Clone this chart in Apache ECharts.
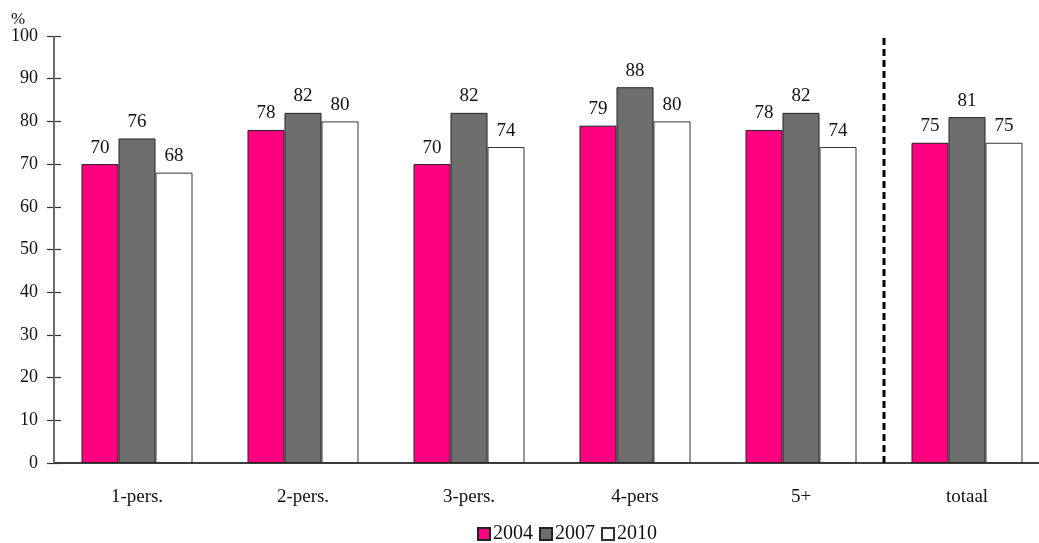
<!DOCTYPE html>
<html>
<head>
<meta charset="utf-8">
<title>Huishoudens</title>
<script src="https://cdn.jsdelivr.net/npm/echarts@6/dist/echarts.min.js"></script>
<style>
  html, body { margin: 0; padding: 0; background: #fff; }
  #chart { width: 1039px; height: 543px; }
</style>
</head>
<body>
<div id="chart"></div>
<script>
// Household size categories and shares per survey year (%)
const categories = ['1-pers.', '2-pers.', '3-pers.', '4-pers', '5+', 'totaal'];
const values2004 = [70, 78, 70, 79, 78, 75];
const values2007 = [76, 82, 82, 88, 82, 81];
const values2010 = [68, 80, 74, 80, 74, 75];
const yTicks = { min: 0, max: 100, interval: 10 };
// Separator between the household groups and the total (category boundary 5)
const separatorAt = 5;

const FONT = '"Liberation Serif", "DejaVu Serif", serif';

function barSeries(name, data, fill, border) {
  return {
    name: name,
    type: 'bar',
    data: data,
    barWidth: 37,
    barGap: '0%',
    itemStyle: { color: fill, borderColor: border, borderWidth: 1 },
    label: {
      show: true,
      position: 'top',
      distance: 7,
      color: '#111',
      fontFamily: FONT,
      fontSize: 19
    }
  };
}

// vertical rule on the helper x axis, spanning the full value range
function ruleSeries(name, at, style) {
  return {
    name: name,
    type: 'line',
    xAxisIndex: 1,
    yAxisIndex: 0,
    data: [[at, yTicks.min], [at, yTicks.max]],
    symbol: 'none',
    silent: true,
    clip: false,
    z: 5,
    lineStyle: style
  };
}

const axisGrey = '#6a6a6a';
const yTickStyle = { color: '#333', width: 1.2 };

const chart = echarts.init(document.getElementById('chart'));
chart.setOption({
  animation: false,
  backgroundColor: '#fff',
  textStyle: { fontFamily: FONT },
  graphic: [{
    type: 'text',
    left: 11,
    top: 11,
    style: { text: '%', font: '17px ' + FONT, fill: '#111' }
  }],
  grid: {
    left: 54, top: 36, width: 996, height: 427,
    containLabel: false,
    outerBoundsMode: 'none'
  },
  legend: {
    left: 472,
    top: 519,
    itemWidth: 12,
    itemHeight: 12,
    itemGap: 6,
    icon: 'rect',
    formatter: function (name) { return name === '2007' ? '{wide|' + name + '}' : name; },
    textStyle: {
      fontFamily: FONT, fontSize: 20, color: '#111', padding: [0, 0, 0, -2],
      rich: { wide: { fontFamily: FONT, fontSize: 20, color: '#111', padding: [0, 4, 0, 0] } }
    },
    data: ['2004', '2007', '2010']
  },
  xAxis: [{
    type: 'category',
    data: categories,
    axisLine: { lineStyle: { color: '#000', width: 1.5 } },
    axisTick: { show: false },
    axisLabel: { margin: 25, color: '#111', fontFamily: FONT, fontSize: 19 },
    splitLine: { show: false }
  }, {
    // helper axis: same span as the categories, used to place vertical rules
    type: 'value',
    min: 0,
    max: categories.length,
    show: false
  }],
  yAxis: [{
    type: 'value',
    min: yTicks.min,
    max: yTicks.max,
    interval: yTicks.interval,
    axisLine: { show: false },
    axisTick: { show: true, inside: false, length: 7, lineStyle: yTickStyle },
    axisLabel: { margin: 16, color: '#111', fontFamily: FONT, fontSize: 18 },
    splitLine: { show: false }
  }, {
    type: 'value',
    position: 'left',
    offset: 0,
    min: yTicks.min,
    max: yTicks.max,
    interval: yTicks.interval,
    axisLine: { show: false },
    axisTick: { show: true, inside: true, length: 7, lineStyle: yTickStyle },
    axisLabel: { show: false },
    splitLine: { show: false }
  }],
  series: [
    barSeries('2004', values2004, '#FF0080', '#222'),
    barSeries('2007', values2007, '#6E6E6E', '#222'),
    barSeries('2010', values2010, '#FFFFFF', '#333'),
    // value axis line
    ruleSeries('axis', 0, { color: axisGrey, width: 2, type: 'solid' }),
    // dashed separator before the total
    ruleSeries('separator', separatorAt, { color: '#000', width: 3, type: [7, 4] })
  ]
});
</script>
</body>
</html>
